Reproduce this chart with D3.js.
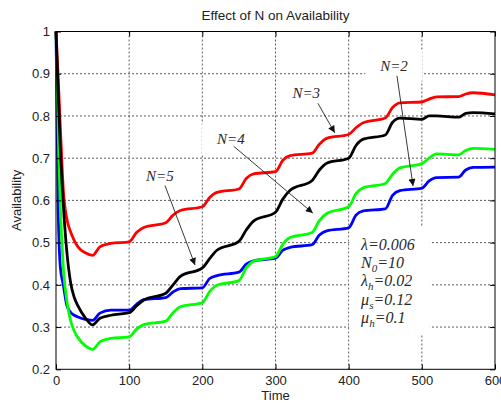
<!DOCTYPE html>
<html>
<head>
<meta charset="utf-8">
<script src="https://cdn.jsdelivr.net/npm/d3@7"></script>
<style>
  body { margin: 0; background: #fff; }
  svg { display: block; font-family: "Liberation Sans", Arial, sans-serif; }
</style>
</head>
<body>
<div id="chart"></div>
<script>
// values
const times = [0, 3, 6, 10, 15, 20, 25, 30, 40, 50, 60, 75, 100, 110, 120, 150, 160, 170, 200, 210,
  220, 250, 260, 270, 300, 310, 320, 350, 360, 370, 400, 410, 420, 450, 460, 470, 500, 510, 520, 550,
  560, 570, 600];

// N=2 (blue)
const availN2 = [1.0, 0.58, 0.44, 0.40, 0.35, 0.335, 0.328, 0.324, 0.318, 0.316,
  0.333, 0.34, 0.34, 0.354, 0.365, 0.37, 0.383, 0.391, 0.393, 0.415,
  0.422, 0.43, 0.449, 0.457, 0.463, 0.482, 0.489, 0.495, 0.518, 0.528,
  0.535, 0.565, 0.575, 0.58, 0.612, 0.623, 0.629, 0.646, 0.654, 0.655,
  0.672, 0.678, 0.679];
// N=3 (red)
const availN3 = [1.0, 0.89, 0.77, 0.625, 0.555, 0.525, 0.505, 0.49, 0.476, 0.47,
  0.49, 0.498, 0.502, 0.524, 0.536, 0.547, 0.565, 0.576, 0.585, 0.607,
  0.619, 0.627, 0.652, 0.663, 0.668, 0.695, 0.706, 0.712, 0.733, 0.747,
  0.756, 0.772, 0.784, 0.795, 0.82, 0.831, 0.833, 0.84, 0.845, 0.846,
  0.852, 0.855, 0.85];
// N=4 (green)
const availN4 = [1.0, 0.76, 0.58, 0.44, 0.36, 0.315, 0.29, 0.275, 0.256, 0.247,
  0.265, 0.273, 0.277, 0.295, 0.306, 0.314, 0.334, 0.348, 0.358, 0.384,
  0.399, 0.41, 0.44, 0.456, 0.467, 0.496, 0.512, 0.524, 0.552, 0.569,
  0.585, 0.616, 0.63, 0.64, 0.662, 0.677, 0.687, 0.7, 0.71, 0.708,
  0.718, 0.723, 0.721];
// N=5 (black)
const availN5 = [1.0, 0.86, 0.72, 0.59, 0.475, 0.405, 0.37, 0.35, 0.322, 0.305,
  0.321, 0.328, 0.334, 0.35, 0.364, 0.38, 0.4, 0.42, 0.44, 0.462,
  0.482, 0.503, 0.53, 0.551, 0.572, 0.603, 0.624, 0.647, 0.672, 0.688,
  0.70, 0.73, 0.745, 0.755, 0.785, 0.795, 0.792, 0.8, 0.8, 0.797,
  0.806, 0.808, 0.805];

const xTicks = [0, 100, 200, 300, 400, 500, 600];
const yTicks = [0.2, 0.3, 0.4, 0.5, 0.6, 0.7, 0.8, 0.9, 1];

// arrow annotations (data units)
const labels = ["N=2", "N=3", "N=4", "N=5"];
const labelTime = [462, 342, 239, 142];
const labelAvail = [0.907, 0.843, 0.734, 0.646];
const arrowFromTime = [466, 358, 243, 149];
const arrowFromAvail = [0.895, 0.830, 0.728, 0.635];
const arrowToTime = [488, 381, 351, 190];
const arrowToAvail = [0.634, 0.76, 0.57, 0.447];

// parameter block
const paramBase = ["λ", "N", "λ", "μ", "μ"];
const paramSub = ["", "0", "h", "s", "h"];
const paramRest = ["=0.006", "=10", "=0.02", "=0.12", "=0.1"];
const paramTime = 417, paramAvail = 0.483;

// svg container
const svgWidth = 501, svgHeight = 404;
const margin = { top: 31.5, right: 6, bottom: 34.7, left: 56 };
const chartWidth = svgWidth - margin.left - margin.right;
const chartHeight = svgHeight - margin.top - margin.bottom;

const svg = d3.select('#chart').append('svg')
  .attr('width', svgWidth)
  .attr('height', svgHeight);

const chartGroup = svg.append('g')
  .attr('transform', `translate(${margin.left}, ${margin.top})`);

const xScale = d3.scaleLinear([0, 600], [0, chartWidth]);
const yScale = d3.scaleLinear([0.2, 1], [chartHeight, 0]);

// dotted grid
const grid = chartGroup.append('g')
  .attr('stroke', '#333')
  .attr('stroke-width', 0.8)
  .attr('stroke-dasharray', '2,2');
grid.selectAll('.gx').data(xTicks.slice(1, -1)).enter().append('line')
  .attr('x1', d => xScale(d)).attr('x2', d => xScale(d))
  .attr('y1', 0).attr('y2', chartHeight);
grid.selectAll('.gy').data(yTicks.slice(1, -1)).enter().append('line')
  .attr('y1', d => yScale(d)).attr('y2', d => yScale(d))
  .attr('x1', 0).attr('x2', chartWidth);

// annotation text (white background hides the grid behind it)
const annot = chartGroup.append('g');
const labelText = annot.selectAll('.lbl').data(labels).enter().append('text')
  .attr('x', (d, i) => xScale(labelTime[i]))
  .attr('y', (d, i) => yScale(labelAvail[i]))
  .attr('text-anchor', 'middle')
  .attr('font-family', '"Liberation Serif", "Times New Roman", serif')
  .attr('font-style', 'italic')
  .attr('font-size', 15)
  .attr('fill', '#2a2a2a')
  .text(d => d);

const paramText = annot.append('text')
  .attr('font-family', '"Liberation Serif", "Times New Roman", serif')
  .attr('font-style', 'italic')
  .attr('font-size', 16)
  .attr('fill', '#2a2a2a');
paramBase.forEach((b, i) => {
  const yy = yScale(paramAvail) + i * 18.3;
  paramText.append('tspan').attr('x', xScale(paramTime)).attr('y', yy).text(b);
  if (paramSub[i]) {
    paramText.append('tspan').attr('dy', 4).attr('font-size', 11).text(paramSub[i]);
    paramText.append('tspan').attr('dy', -4).text(paramRest[i]);
  } else {
    paramText.append('tspan').text(paramRest[i]);
  }
});

// background boxes behind the text
labelText.each(function () {
  const bb = this.getBBox();
  annot.insert('rect', 'text')
    .attr('x', bb.x - 14).attr('y', bb.y - 7)
    .attr('width', bb.width + 28).attr('height', bb.height + 14)
    .attr('fill', '#fff');
});
{
  const bb = paramText.node().getBBox();
  annot.insert('rect', 'text')
    .attr('x', bb.x - 11).attr('y', bb.y - 9)
    .attr('width', bb.width + 26).attr('height', bb.height + 14)
    .attr('fill', '#fff');
}

// curves
const series = [
  { values: availN2, color: '#0000ff' },
  { values: availN4, color: '#00ff00' },
  { values: availN3, color: '#ff0000' },
  { values: availN5, color: '#000000' }
];
const line = d3.line()
  .x((d, i) => xScale(times[i]))
  .y(d => yScale(d))
  .curve(d3.curveMonotoneX);
chartGroup.selectAll('.curve').data(series).enter().append('path')
  .attr('d', d => line(d.values))
  .attr('fill', 'none')
  .attr('stroke', d => d.color)
  .attr('stroke-width', 2.8)
  .attr('stroke-linejoin', 'round');

// arrows
svg.append('defs').append('marker')
  .attr('id', 'head')
  .attr('viewBox', '0 0 10 10')
  .attr('refX', 10).attr('refY', 5)
  .attr('markerWidth', 9).attr('markerHeight', 7)
  .attr('markerUnits', 'userSpaceOnUse')
  .attr('orient', 'auto')
  .append('path')
  .attr('d', 'M0,0 L10,5 L0,10 Z')
  .attr('fill', '#111');
chartGroup.selectAll('.arrow').data(labels).enter().append('line')
  .attr('x1', (d, i) => xScale(arrowFromTime[i]))
  .attr('y1', (d, i) => yScale(arrowFromAvail[i]))
  .attr('x2', (d, i) => xScale(arrowToTime[i]))
  .attr('y2', (d, i) => yScale(arrowToAvail[i]))
  .attr('stroke', '#222')
  .attr('stroke-width', 0.9)
  .attr('marker-end', 'url(#head)');

// axes, ticks pointing inwards
const xAxis = d3.axisBottom(xScale).tickValues(xTicks).tickSize(-5).tickPadding(6);
const yAxis = d3.axisLeft(yScale).tickValues(yTicks).tickSize(-5).tickPadding(6).tickFormat(d3.format('~g'));
const xg = chartGroup.append('g').attr('transform', `translate(0, ${chartHeight})`).call(xAxis);
const yg = chartGroup.append('g').call(yAxis);
chartGroup.append('g').call(d3.axisTop(xScale).tickValues(xTicks).tickSize(-5).tickFormat(''));
chartGroup.append('g').attr('transform', `translate(${chartWidth}, 0)`)
  .call(d3.axisRight(yScale).tickValues(yTicks).tickSize(-5).tickFormat(''));
chartGroup.selectAll('.domain').remove();
chartGroup.selectAll('.tick line').attr('stroke', '#000');
[xg, yg].forEach(g => g.selectAll('text')
  .attr('font-size', 13)
  .attr('font-family', '"Liberation Sans", Arial, sans-serif')
  .attr('fill', '#222'));

chartGroup.append('rect')
  .attr('width', chartWidth).attr('height', chartHeight)
  .attr('fill', 'none').attr('stroke', '#000').attr('stroke-width', 1);

// title and axis labels
svg.append('text')
  .attr('x', margin.left + chartWidth / 2).attr('y', 20)
  .attr('text-anchor', 'middle').attr('font-size', 13.5).attr('fill', '#222')
  .text('Effect of N on Availability');
svg.append('text')
  .attr('x', margin.left + chartWidth / 2).attr('y', 400)
  .attr('text-anchor', 'middle').attr('font-size', 13).attr('fill', '#222')
  .text('Time');
svg.append('g')
  .attr('transform', `translate(21, ${margin.top + chartHeight / 2}) rotate(-90)`)
  .append('text')
  .attr('text-anchor', 'middle').attr('font-size', 13).attr('fill', '#222')
  .text('Availability');
</script>
</body>
</html>
